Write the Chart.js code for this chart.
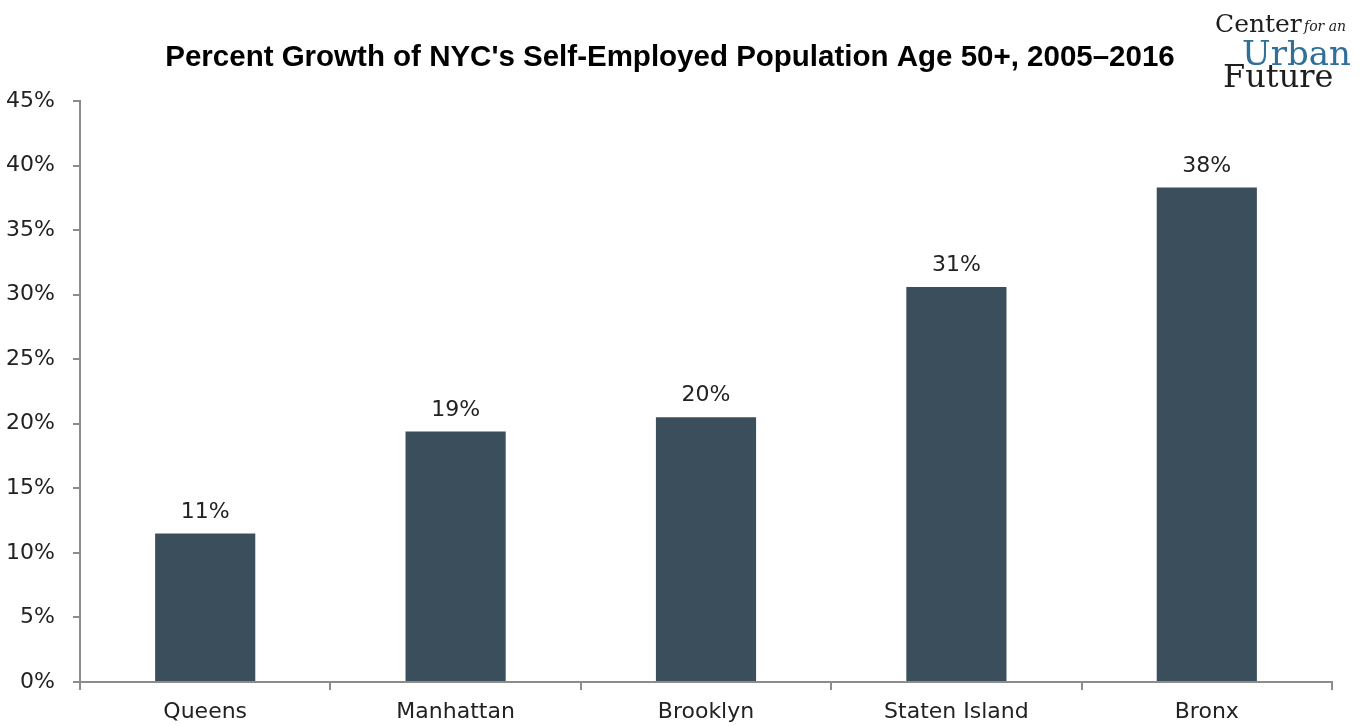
<!DOCTYPE html>
<html>
<head>
<meta charset="utf-8">
<script src="https://cdn.jsdelivr.net/npm/chart.js@4.4.1/dist/chart.umd.min.js"></script>
<style>
  html, body { margin: 0; padding: 0; background: #fff; }
</style>
</head>
<body>
<canvas id="myChart" width="1370" height="726"></canvas>
<script>
// Chart data
const boroughs = ["Queens", "Manhattan", "Brooklyn", "Staten Island", "Bronx"];
const growthValues = [11.5, 19.4, 20.5, 30.6, 38.3];
const growthLabels = ["11%", "19%", "20%", "31%", "38%"];
const yTicks = [0, 5, 10, 15, 20, 25, 30, 35, 40, 45];

const chartTitle = "Percent Growth of NYC's Self-Employed Population Age 50+, 2005\u20132016";

const axisColor = "#8c8c8c";
const textFont = "'DejaVu Sans', sans-serif";
const logoFont = "'DejaVu Serif', serif";

// draws the title, the logo and the value above each bar
const labelPlugin = {
  id: "labelPlugin",
  afterDatasetsDraw: (chart) => {
    const ctx = chart.ctx;
    ctx.save();
    ctx.textBaseline = "alphabetic";

    // title
    ctx.fillStyle = "#000";
    ctx.textAlign = "center";
    ctx.font = "bold 29.5px 'Liberation Sans', Arial, sans-serif";
    ctx.fillText(chartTitle, 670, 66);

    // logo
    ctx.textAlign = "left";
    ctx.fillStyle = "#1e1e1e";
    ctx.font = "25px " + logoFont;
    ctx.fillText("Center", 1215, 32);
    ctx.font = "italic 14px " + logoFont;
    ctx.fillText("for an", 1304, 31);
    ctx.font = "32px " + logoFont;
    ctx.fillText("Future", 1223, 87);
    ctx.fillStyle = "#2f6f98";
    ctx.font = "34px " + logoFont;
    ctx.fillText("Urban", 1242, 65);

    // value labels
    ctx.textAlign = "center";
    ctx.fillStyle = "#222";
    ctx.font = "22px " + textFont;
    const meta = chart.getDatasetMeta(0);
    meta.data.forEach((bar, i) => {
      ctx.fillText(growthLabels[i], bar.x, bar.y - 16);
    });
    ctx.restore();
  }
};

const ctx = document.getElementById("myChart").getContext("2d");
const myChart = new Chart(ctx, {
  type: "bar",
  data: {
    labels: boroughs,
    datasets: [
      {
        data: growthValues,
        backgroundColor: "#3a4f5b",
        borderWidth: 0,
        barPercentage: 0.8,
        categoryPercentage: 0.5,
      },
    ],
  },
  options: {
    responsive: false,
    animation: false,
    layout: { padding: { top: 101, right: 38, left: 0, bottom: 0 } },
    plugins: {
      legend: { display: false },
      tooltip: { enabled: false },
    },
    scales: {
      x: {
        grid: {
          display: true,
          offset: true,
          drawOnChartArea: false,
          tickLength: 8,
          color: axisColor,
          lineWidth: 2,
        },
        border: { display: true, color: axisColor, width: 2 },
        ticks: {
          color: "#222",
          font: { family: textFont, size: 22 },
          padding: 9,
        },
        afterFit: (scale) => { scale.height = 44; },
      },
      y: {
        min: 0,
        max: 45,
        afterBuildTicks: (scale) => {
          scale.ticks = yTicks.map((v) => ({ value: v }));
        },
        grid: {
          display: true,
          drawOnChartArea: false,
          tickLength: 7,
          color: axisColor,
          lineWidth: 2,
        },
        border: { display: true, color: axisColor, width: 2 },
        ticks: {
          color: "#222",
          font: { family: textFont, size: 22 },
          padding: 18,
          callback: (value) => value + "%",
        },
        afterFit: (scale) => { scale.width = 80; },
      },
    },
  },
  plugins: [labelPlugin],
});
</script>
</body>
</html>
